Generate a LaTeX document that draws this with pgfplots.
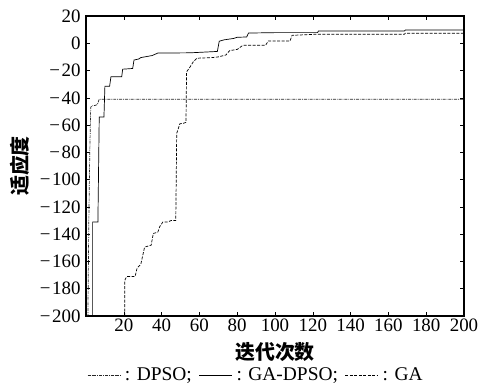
\documentclass[border=0pt]{standalone}
\usepackage{fontspec}
\setmainfont{Liberation Serif}
\newfontfamily\cjk{Noto Sans CJK SC}
\usepackage{pgfplots}
\pgfplotsset{compat=1.18}
\newcommand\tickfont{\fontsize{19}{21}\selectfont}
\newcommand\legfont{\fontsize{19.5}{21}\selectfont}
\newcommand\mn{−\kern1.5bp}
\begin{document}
\begin{tikzpicture}
\useasboundingbox (-86bp,-69bp) rectangle (408bp,316bp);
\begin{axis}[
  at={(0,0)}, anchor=south west,
  scale only axis, width=378bp, height=300bp,
  xmin=0, xmax=200, ymin=-200, ymax=20,
  xtick={20,40,...,200}, ytick={-200,-180,...,20},
  yticklabels={\mn200,\mn180,\mn160,\mn140,\mn120,\mn100,\mn80,\mn60,\mn40,\mn20,0,20},
  tick align=inside, major tick length=4bp,
  axis line style={line width=1.6pt},
  every tick/.style={black, line width=0.6pt},
  /pgf/number format/assume math mode=true,
  tick label style={font=\tickfont},
  xticklabel style={yshift=1bp},
  yticklabel style={xshift=-2bp},
  xlabel={\cjk\bfseries\fontsize{20}{22}\selectfont 迭代次数},
  ylabel={\cjk\bfseries\fontsize{20}{22}\selectfont 适应度},
  xlabel style={at={(axis description cs:0.5,0)}, anchor=center, yshift=-36bp},
  ylabel style={at={(axis description cs:-0.175,0.5)}, anchor=center},
  legend columns=3,
  legend style={draw=none, fill=none, at={(axis description cs:0,0)}, anchor=west,
    xshift=1bp, yshift=-59bp,
    font=\legfont, inner sep=0pt,
    nodes={inner sep=1bp},
    /tikz/every odd column/.append style={column sep=3bp},
    /tikz/every even column/.append style={column sep=6bp}},
  legend image code/.code={\draw[#1] (0bp,0bp) -- (33bp,0bp);},
]
\addplot[black!85, line width=0.7pt, dash pattern=on 3pt off 1pt on 0.8pt off 1pt] coordinates {
(0.5,-200) (1,-200) (1.5,-130) (2,-80) (2.5,-47) (3,-46) (5,-45.5) (6,-45) (7,-41) (200,-41)};
\addlegendentry{: DPSO;}
\addplot[black, line width=0.7pt] coordinates {
(3.5,-200) (3.5,-131) (6.3,-131) (7,-54) (9.5,-54) (10,-31.5) (12.5,-31.5) (13.2,-24.5) (18.9,-24.5) (19.4,-19) (24.7,-18.5) (25.4,-12.3) (28,-11.5) (29,-10.5) (35,-9) (38,-7.2) (55,-7) (69.5,-6) (70.5,1.5) (73,2.5) (78,3.5) (80,4.4) (85,4.6) (86,7.5) (100,7.8) (122.5,7.8) (123,9) (168.5,9) (169,9.7) (200,9.7)};
\addlegendentry{: GA-DPSO;}
\addplot[black, line width=0.7pt, dash pattern=on 3pt off 1.5pt] coordinates {
(20.5,-200) (20.5,-174) (21.5,-171) (26,-171) (27,-165) (29,-162) (31,-149.5) (34.5,-148) (35.6,-139.5) (38,-138.5) (39,-134.5) (40.7,-131) (43.4,-131) (45,-130) (47.5,-130) (48,-66) (49.7,-59) (51.5,-58.7) (52.9,-58) (53.2,-21) (55,-17.5) (56.8,-13.5) (58.6,-11) (61,-10.8) (66,-10.6) (70,-10) (74,-8.6) (76,-5.4) (80,-4.5) (83,-1.5) (95,-1.5) (96.5,1.7) (108,1.7) (109,5.8) (121,6.6) (168.5,6.6) (169,7.3) (200,7.3)};
\addlegendentry{: GA}
\end{axis}
\end{tikzpicture}
\end{document}
